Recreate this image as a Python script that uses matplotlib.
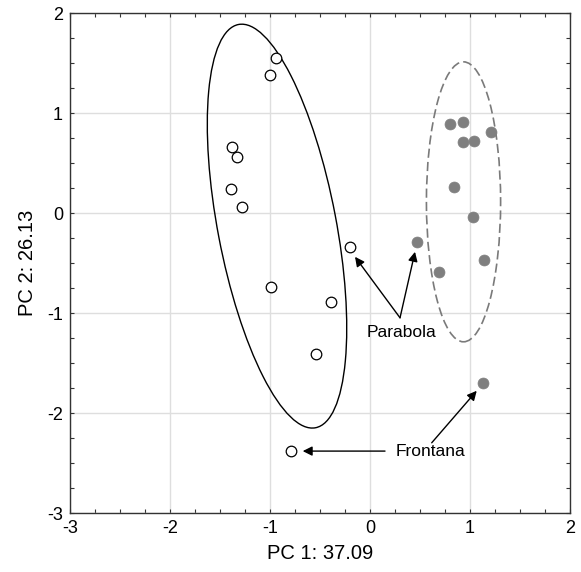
import matplotlib
matplotlib.use('Agg')
import matplotlib.pyplot as plt
from matplotlib.patches import Ellipse
from matplotlib.ticker import MultipleLocator

plt.rcParams['font.family'] = ['Liberation Sans', 'DejaVu Sans']
plt.rcParams['axes.unicode_minus'] = False

# open circles (group 1)
pc1_open = [-0.943, -0.997, -1.377, -1.33, -1.39, -1.283, -0.99, -0.393, -0.54, -0.20, -0.787]
pc2_open = [1.553, 1.38, 0.657, 0.56, 0.243, 0.063, -0.737, -0.887, -1.41, -0.343, -2.38]

# filled circles (group 2)
pc1_fill = [0.803, 0.927, 1.21, 0.933, 1.04, 0.843, 1.03, 0.473, 1.137, 0.693, 1.133]
pc2_fill = [0.887, 0.91, 0.813, 0.713, 0.72, 0.26, -0.037, -0.29, -0.473, -0.587, -1.697]

# ellipses: centre, width, height, angle
ell_open = [(-0.93, -0.13), 1.184, 4.106, 10.8]
ell_fill = [(0.935, 0.113), 0.742, 2.80, 0.0]

# labels
parabola_xy = [(-0.15, -0.437), (0.45, -0.387)]
parabola_from = (0.30, -1.047)
parabola_text = (0.317, -1.197)
frontana_xy = [(-0.673, -2.38), (1.067, -1.777)]
frontana_from = [(0.15, -2.38), (0.617, -2.297)]
frontana_text = (0.26, -2.38)

fig = plt.figure(figsize=(5.81, 5.72), dpi=100)
ax = fig.add_axes([0.1205, 0.103, 0.8606, 0.874])

ax.grid(True, color='#dedede', lw=1.0, zorder=0)
ax.set_axisbelow(True)

e1 = Ellipse(ell_open[0], ell_open[1], ell_open[2], angle=ell_open[3],
             fill=False, ec='black', lw=1.0, zorder=2)
e2 = Ellipse(ell_fill[0], ell_fill[1], ell_fill[2], angle=ell_fill[3],
             fill=False, ec='#7a7a7a', lw=1.2, ls=(0, (5.5, 2.5)), zorder=2)
ax.add_patch(e1)
ax.add_patch(e2)

ax.scatter(pc1_open, pc2_open, s=58, facecolors='white', edgecolors='black', linewidths=0.9, zorder=3)
ax.scatter(pc1_fill, pc2_fill, s=62, facecolors='#7f7f7f', edgecolors='#7f7f7f', linewidths=0.5, zorder=3)

arrow = dict(arrowstyle='-|>', mutation_scale=14, lw=1.0, color='black', shrinkA=0, shrinkB=0)
for tip in parabola_xy:
    ax.annotate('', xy=tip, xytext=parabola_from, arrowprops=arrow)
ax.text(parabola_text[0], parabola_text[1], 'Parabola', ha='center', va='center', fontsize=12.5)
for tip, start in zip(frontana_xy, frontana_from):
    ax.annotate('', xy=tip, xytext=start, arrowprops=arrow)
ax.text(frontana_text[0], frontana_text[1], 'Frontana', ha='left', va='center', fontsize=12.5)

ax.set_xlim(-3, 2)
ax.set_ylim(-3, 2)
ax.xaxis.set_major_locator(MultipleLocator(1))
ax.yaxis.set_major_locator(MultipleLocator(1))
ax.xaxis.set_minor_locator(MultipleLocator(0.25))
ax.yaxis.set_minor_locator(MultipleLocator(0.25))
ax.tick_params(which='both', direction='in', top=True, right=True, length=3, width=0.8, color='#333333')
ax.tick_params(which='major', labelsize=13, pad=5)
for s in ax.spines.values():
    s.set_color('#333333')
    s.set_linewidth(1.0)

ax.set_xlabel('PC 1: 37.09', fontsize=14.5, labelpad=5)
ax.set_ylabel('PC 2: 26.13', fontsize=14.5, labelpad=7)

fig.savefig('out.png', dpi=100)
